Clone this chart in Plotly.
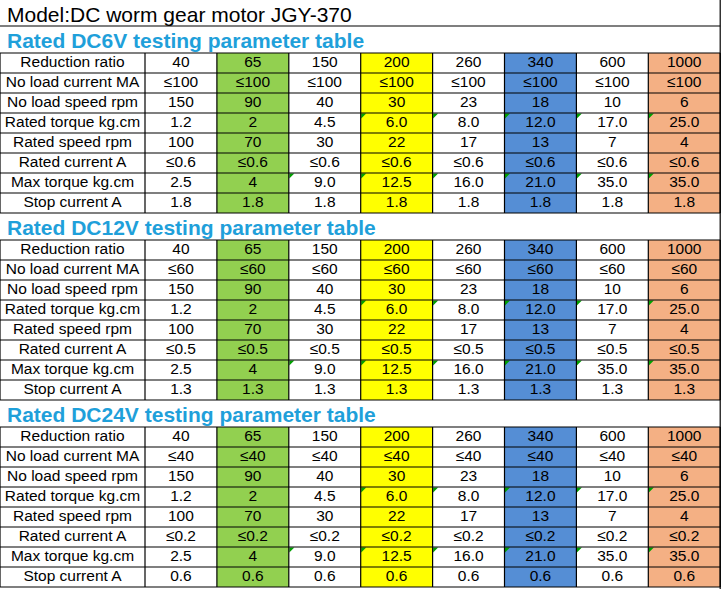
import plotly.graph_objects as go

# ---------------- data ----------------
title_text = "Model:DC worm gear motor JGY-370"
voltages = ["DC6V", "DC12V", "DC24V"]
row_labels = ["Reduction ratio", "No load current MA", "No load speed rpm",
              "Rated torque kg.cm", "Rated speed rpm", "Rated current A",
              "Max torque kg.cm", "Stop current A"]
reduction_ratio = ["40", "65", "150", "200", "260", "340", "600", "1000"]
no_load_current = ["≤100", "≤60", "≤40"]          # per voltage, same for every ratio
no_load_speed = ["150", "90", "40", "30", "23", "18", "10", "6"]
rated_torque = ["1.2", "2", "4.5", "6.0", "8.0", "12.0", "17.0", "25.0"]
rated_speed = ["100", "70", "30", "22", "17", "13", "7", "4"]
rated_current = ["≤0.6", "≤0.5", "≤0.2"]           # per voltage
max_torque = ["2.5", "4", "9.0", "12.5", "16.0", "21.0", "35.0", "35.0"]
stop_current = ["1.8", "1.3", "0.6"]              # per voltage

# column highlight colours (None = white)
col_colors = [None, "#92D050", None, "#FFFF00", None, "#558ED5", None, "#F4B084"]
# cells with the little green corner marks (row index -> column indices)
flag_cells = {3: [3, 4, 5, 6, 7], 6: [2, 3, 4, 5, 6, 7]}

# ---------------- geometry ----------------
W, H = 723, 589
label_w = 145
col_w = 71.9
title_h = 26
head_h = 27
row_h = 20
ncols = len(reduction_ratio)
right = label_w + ncols * col_w

FONT = "Liberation Sans, Arial, sans-serif"

shapes = []
tx, ty, tt = [], [], []

def col_x0(i):
    return label_w + i * col_w

def line(x0, y0, x1, y1, w=1.2):
    shapes.append(dict(type="line", xref="x", yref="y", x0=x0, y0=y0, x1=x1, y1=y1,
                       line=dict(color="black", width=w), layer="above"))

annotations = [dict(x=5, y=title_h / 2 + 1, xref="x", yref="y", text=title_text,
                    showarrow=False, xanchor="left", yanchor="middle",
                    font=dict(family=FONT, size=21, color="black"))]

line(0, title_h, right, title_h)

for s, volt in enumerate(voltages):
    top = title_h + s * (head_h + 8 * row_h)
    annotations.append(dict(x=5, y=top + head_h / 2 + 1, xref="x", yref="y",
                            text="<b>Rated %s testing parameter table</b>" % volt,
                            showarrow=False, xanchor="left", yanchor="middle",
                            font=dict(family=FONT, size=21, color="#1FA0DA")))
    t0 = top + head_h
    t1 = t0 + 8 * row_h
    values = [reduction_ratio,
              [no_load_current[s]] * ncols,
              no_load_speed,
              rated_torque,
              rated_speed,
              [rated_current[s]] * ncols,
              max_torque,
              [stop_current[s]] * ncols]
    # fills
    for i, c in enumerate(col_colors):
        if c:
            shapes.append(dict(type="rect", xref="x", yref="y", x0=col_x0(i), x1=col_x0(i + 1),
                               y0=t0, y1=t1, fillcolor=c, line=dict(width=0), layer="below"))
    # green corner flags
    for r, cols in flag_cells.items():
        for i in cols:
            x0 = col_x0(i) + 0.5
            y0 = t0 + r * row_h + 0.5
            shapes.append(dict(type="path", xref="x", yref="y",
                               path="M %f %f L %f %f L %f %f Z" % (x0, y0, x0 + 5, y0, x0, y0 + 5),
                               fillcolor="#00A000", line=dict(width=0), layer="above"))
    # text
    for r, lab in enumerate(row_labels):
        yc = t0 + r * row_h + row_h / 2 + 0.5
        tx.append(label_w / 2); ty.append(yc); tt.append(lab)
        for i in range(ncols):
            tx.append(col_x0(i) + col_w / 2); ty.append(yc); tt.append(values[r][i])
    # grid
    for r in range(9):
        line(0, t0 + r * row_h, right, t0 + r * row_h)
    for i in range(ncols + 1):
        line(col_x0(i), t0, col_x0(i), t1)
    line(0, t0, 0, t1)

line(right, 0, right, H)

fig = go.Figure(go.Scatter(x=tx, y=ty, text=tt, mode="text", textposition="middle center",
                           textfont=dict(family=FONT, size=15.5, color="black"),
                           hoverinfo="skip", showlegend=False))
fig.update_layout(width=W, height=H, margin=dict(l=0, r=0, t=0, b=0),
                  paper_bgcolor="white", plot_bgcolor="white",
                  shapes=shapes, annotations=annotations,
                  xaxis=dict(range=[0, W], visible=False, fixedrange=True),
                  yaxis=dict(range=[H, 0], visible=False, fixedrange=True))
fig.write_html("out.html", config={"displayModeBar": False},
               post_script="document.body.style.margin='0';document.body.style.overflow='hidden';")
